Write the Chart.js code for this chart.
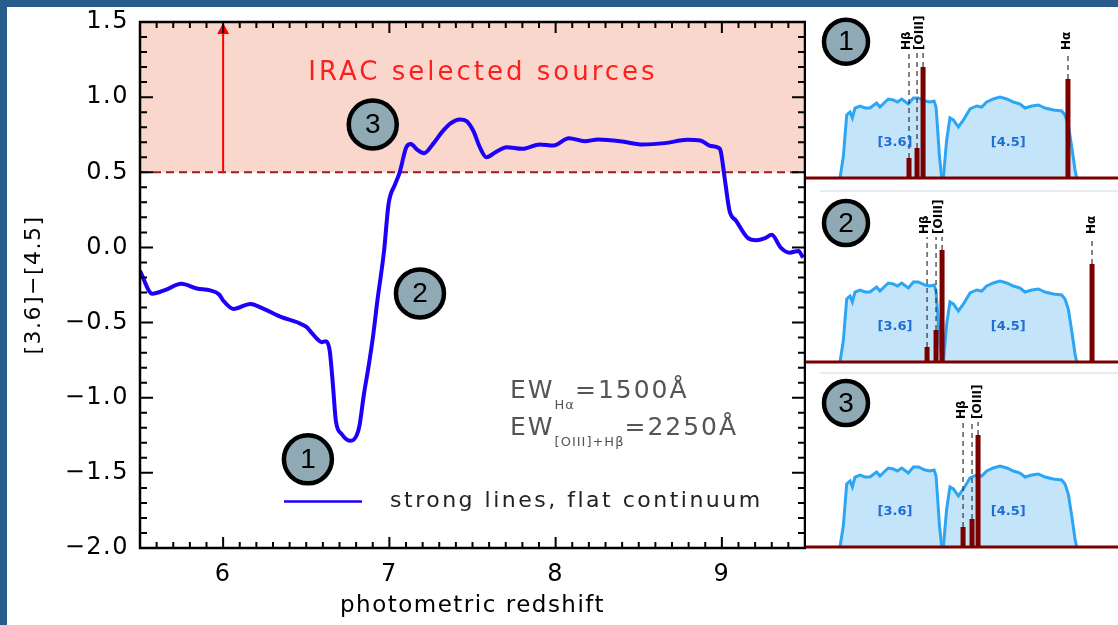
<!DOCTYPE html>
<html>
<head>
<meta charset="utf-8">
<script src="https://cdn.jsdelivr.net/npm/chart.js@4.4.0/dist/chart.umd.min.js"></script>
<style>
  html, body { margin: 0; padding: 0; background: #fff; }
  #wrap { position: relative; width: 1118px; height: 625px; overflow: hidden; background: #fff; }
  canvas { position: absolute; }
  .bar { position: absolute; background: #285c8d; }
  .sep { position: absolute; background: #e6edf2; height: 2px; }
</style>
</head>
<body>
<div id="wrap">
  <canvas id="main" width="799" height="618" style="left:7px;top:7px;width:799px;height:618px"></canvas>
  <canvas id="p1" width="312" height="175" style="left:806px;top:7px;width:312px;height:175px"></canvas>
  <canvas id="p2" width="312" height="174" style="left:806px;top:192px;width:312px;height:174px"></canvas>
  <canvas id="p3" width="312" height="177" style="left:806px;top:374px;width:312px;height:177px"></canvas>
  <div class="sep" style="left:820px;top:190px;width:298px"></div>
  <div class="sep" style="left:820px;top:372px;width:298px"></div>
  <div class="bar" style="left:0;top:0;width:1118px;height:7px"></div>
  <div class="bar" style="left:0;top:0;width:7px;height:625px"></div>
</div>
<script>
// colour track vs photometric redshift
const redshift = [5.500, 5.574, 5.654, 5.748, 5.842, 5.922, 5.976, 6.000, 6.062, 6.164,
  6.244, 6.351, 6.445, 6.499, 6.525, 6.566, 6.592, 6.619, 6.641, 6.660,
  6.678, 6.713, 6.767, 6.802, 6.820, 6.847, 6.874, 6.901, 6.928, 6.968,
  6.995, 7.035, 7.062, 7.102, 7.129, 7.169, 7.209, 7.263, 7.316, 7.370,
  7.424, 7.464, 7.504, 7.544, 7.584, 7.638, 7.705, 7.799, 7.906, 7.987,
  8.080, 8.174, 8.255, 8.389, 8.523, 8.657, 8.791, 8.871, 8.925, 8.979,
  8.992, 9.019, 9.046, 9.086, 9.153, 9.206, 9.260, 9.300, 9.354, 9.408,
  9.461, 9.488];
const colour = [-0.157, -0.308, -0.282, -0.242, -0.273, -0.286, -0.313, -0.353, -0.409, -0.376,
  -0.409, -0.464, -0.498, -0.527, -0.558, -0.609, -0.631, -0.624, -0.687, -0.909,
  -1.153, -1.242, -1.287, -1.253, -1.187, -0.976, -0.798, -0.598, -0.353, -0.023,
  0.288, 0.422, 0.500, 0.667, 0.689, 0.649, 0.627, 0.689, 0.767, 0.827,
  0.852, 0.841, 0.778, 0.667, 0.600, 0.633, 0.667, 0.656, 0.685, 0.678,
  0.727, 0.707, 0.718, 0.707, 0.685, 0.694, 0.716, 0.712, 0.678, 0.663,
  0.645, 0.444, 0.244, 0.177, 0.066, 0.048, 0.062, 0.084, -0.001, -0.035,
  -0.023, -0.068];
const xTicks = [6, 7, 8, 9];
const yTicks = [-2, -1.5, -1, -0.5, 0, 0.5, 1, 1.5];
const iracCut = 0.5;

// IRAC filter curves (micron, relative throughput)
const ch1Wave = [3.114, 3.142, 3.171, 3.199, 3.219, 3.241, 3.284, 3.326, 3.368, 3.402, 3.425,
  3.453, 3.487, 3.524, 3.566, 3.600, 3.637, 3.693, 3.736, 3.778, 3.835, 3.877, 3.911,
  3.928, 3.942, 3.956, 3.976];
const ch1Trans = [0, 0.21, 0.63, 0.66, 0.60, 0.70, 0.72, 0.70, 0.70, 0.73, 0.75,
  0.71, 0.75, 0.79, 0.78, 0.76, 0.79, 0.74, 0.80, 0.80, 0.77, 0.76, 0.77,
  0.71, 0.48, 0.23, 0];
const ch2Wave = [3.990, 4.018, 4.046, 4.075, 4.117, 4.160, 4.216, 4.272, 4.315, 4.357, 4.414,
  4.470, 4.527, 4.583, 4.640, 4.682, 4.739, 4.795, 4.852, 4.922, 4.993, 5.021, 5.049,
  5.078, 5.106, 5.120];
const ch2Trans = [0, 0.38, 0.60, 0.58, 0.51, 0.58, 0.69, 0.72, 0.71, 0.76, 0.79,
  0.81, 0.79, 0.76, 0.74, 0.70, 0.72, 0.73, 0.70, 0.68, 0.67, 0.63, 0.53,
  0.31, 0.08, 0];

// emission lines per panel: observed wavelength and peak height
const p1Wave = [3.699, 3.767, 3.818, 5.046];
const p1Flux = [0.20, 0.30, 1.11, 0.99];
const p2Wave = [3.852, 3.928, 3.979, 5.250];
const p2Flux = [0.15, 0.32, 1.12, 0.98];
const p3Wave = [4.157, 4.233, 4.284];
const p3Flux = [0.20, 0.28, 1.12];
const p1Labels = [['H\u03b2', 3.682], ['[OIII]', 3.792], ['H\u03b1', 5.035]];
const p2Labels = [['H\u03b2', 3.835], ['[OIII]', 3.956], ['H\u03b1', 5.247]];
const p3Labels = [['H\u03b2', 4.148], ['[OIII]', 4.286]];

const FONT = 'DejaVu Sans';

function badge(ctx, px, py, r, txt) {
  ctx.save();
  ctx.beginPath();
  ctx.arc(px, py, r, 0, Math.PI * 2);
  ctx.fillStyle = '#8faab4';
  ctx.fill();
  ctx.lineWidth = 4.5;
  ctx.strokeStyle = '#000';
  ctx.stroke();
  ctx.fillStyle = '#000';
  ctx.letterSpacing = '0px';
  ctx.font = '28px "Liberation Sans"';
  ctx.textAlign = 'center';
  ctx.textBaseline = 'middle';
  ctx.fillText(txt, px, py + 1);
  ctx.restore();
}

function runs(ctx, x0, y0, parts) {
  let cx = x0;
  parts.forEach(p => {
    ctx.font = p[1] + 'px ' + FONT;
    ctx.letterSpacing = p[3];
    ctx.fillText(p[0], cx, y0 + p[2]);
    cx += ctx.measureText(p[0]).width;
  });
}

const mainDecor = {
  id: 'mainDecor',
  beforeDraw(chart) { chart.ctx.letterSpacing = '1.5px'; },
  beforeDatasetsDraw(chart) {
    const {ctx, chartArea: a, scales: {x, y}} = chart;
    const yTop = y.getPixelForValue(1.5), yCut = y.getPixelForValue(iracCut);
    ctx.save();
    ctx.fillStyle = 'rgb(250,215,205)';
    ctx.fillRect(a.left, yTop, a.width, yCut - yTop);
    ctx.strokeStyle = 'rgb(150,30,30)';
    ctx.lineWidth = 2;
    ctx.setLineDash([8, 5]);
    ctx.beginPath(); ctx.moveTo(a.left, yCut); ctx.lineTo(a.right, yCut); ctx.stroke();
    ctx.setLineDash([]);
    const ax = x.getPixelForValue(6);
    ctx.strokeStyle = '#ff0000'; ctx.fillStyle = '#ff0000';
    ctx.beginPath(); ctx.moveTo(ax, yCut); ctx.lineTo(ax, yTop + 8); ctx.stroke();
    ctx.beginPath(); ctx.moveTo(ax, yTop + 1); ctx.lineTo(ax - 6, yTop + 12); ctx.lineTo(ax + 6, yTop + 12); ctx.closePath(); ctx.fill();
    ctx.font = '26px ' + FONT;
    ctx.letterSpacing = '3px';
    ctx.fillStyle = '#ff1e1e';
    ctx.textAlign = 'center'; ctx.textBaseline = 'middle';
    ctx.fillText('IRAC selected sources', x.getPixelForValue(7.563), y.getPixelForValue(1.158));
    ctx.restore();
  },
  afterDatasetsDraw(chart) {
    const {ctx, chartArea: a, scales: {x, y}} = chart;
    ctx.save();
    badge(ctx, x.getPixelForValue(6.51), y.getPixelForValue(-1.41), 24, '1');
    badge(ctx, x.getPixelForValue(7.184), y.getPixelForValue(-0.306), 24, '2');
    badge(ctx, x.getPixelForValue(6.90), y.getPixelForValue(0.818), 24, '3');

    ctx.fillStyle = '#555';
    ctx.textAlign = 'left'; ctx.textBaseline = 'alphabetic';
    const ex = x.getPixelForValue(7.726);
    runs(ctx, ex, y.getPixelForValue(-1.005), [['EW', 25, 0, '2px'], ['H\u03b1', 13, 11, '1px'], ['=1500\u00c5', 25, 0, '2px']]);
    runs(ctx, ex, y.getPixelForValue(-1.251), [['EW', 25, 0, '2px'], ['[OIII]+H\u03b2', 13, 11, '1px'], ['=2250\u00c5', 25, 0, '2px']]);

    // legend
    const ly = y.getPixelForValue(-1.69);
    ctx.strokeStyle = 'rgb(30,0,250)'; ctx.lineWidth = 2.5;
    ctx.beginPath(); ctx.moveTo(x.getPixelForValue(6.366), ly); ctx.lineTo(x.getPixelForValue(6.835), ly); ctx.stroke();
    ctx.fillStyle = '#222';
    ctx.font = '22px ' + FONT;
    ctx.letterSpacing = '2.5px';
    ctx.textBaseline = 'middle';
    ctx.fillText('strong lines, flat continuum', x.getPixelForValue(7.004), ly);

    // frame with inward ticks
    ctx.strokeStyle = '#000'; ctx.lineWidth = 2;
    ctx.beginPath();
    for (let i = 55; i <= 95; i++) {
      const px = x.getPixelForValue(i / 10), len = i % 10 === 0 ? 11 : 6;
      ctx.moveTo(px, a.bottom); ctx.lineTo(px, a.bottom - len);
      ctx.moveTo(px, a.top); ctx.lineTo(px, a.top + len);
    }
    for (let i = -20; i <= 15; i++) {
      const py = y.getPixelForValue(i / 10), len = i % 5 === 0 ? 13 : 7;
      ctx.moveTo(a.left, py); ctx.lineTo(a.left + len, py);
      ctx.moveTo(a.right, py); ctx.lineTo(a.right - len, py);
    }
    ctx.stroke();
    ctx.lineWidth = 2.5;
    ctx.strokeRect(a.left, a.top, a.width, a.height);
    ctx.restore();
  }
};

new Chart(document.getElementById('main'), {
  type: 'line',
  data: {
    datasets: [{
      label: 'strong lines, flat continuum',
      data: redshift.map((z, i) => ({x: z, y: colour[i]})),
      borderColor: 'rgb(30,0,250)',
      borderWidth: 4,
      pointRadius: 0,
      cubicInterpolationMode: 'monotone',
      fill: false
    }]
  },
  options: {
    responsive: false,
    animation: false,
    events: [],
    layout: {padding: {top: 15, right: 1, left: 0, bottom: 0}},
    plugins: {legend: {display: false}, tooltip: {enabled: false}},
    scales: {
      x: {
        type: 'linear', min: 5.5, max: 9.5,
        afterBuildTicks: s => { s.ticks = xTicks.map(v => ({value: v})); },
        afterFit: s => { s.height = 77; },
        grid: {display: false, drawTicks: false},
        border: {display: false},
        ticks: {font: {family: FONT, size: 24}, color: '#000', padding: 12, maxRotation: 0,
          callback: v => String(v)},
        title: {display: true, text: 'photometric redshift', color: '#000',
          font: {family: FONT, size: 23}, padding: {top: 0, bottom: 5}}
      },
      y: {
        type: 'linear', min: -2, max: 1.5,
        afterBuildTicks: s => { s.ticks = yTicks.map(v => ({value: v})); },
        afterFit: s => { s.width = 133; },
        grid: {display: false, drawTicks: false},
        border: {display: false},
        ticks: {font: {family: FONT, size: 24, lineHeight: 0.3}, color: '#000', padding: 11,
          callback: v => (v < 0 ? '\u2212' : '') + Math.abs(v).toFixed(1)},
        title: {display: true, text: '[3.6]\u2212[4.5]', color: '#000',
          font: {family: FONT, size: 22}, padding: {top: 14, bottom: 0}}
      }
    }
  },
  plugins: [mainDecor]
});

// spectral panels
const panelMin = 2.826, panelMax = 5.470, guideTop = 1.25;

function makePanel(id, wave, flux, labels, num, badgeY, yMax) {
  const spikes = [], guides = [];
  wave.forEach((w, i) => {
    spikes.push({x: w, y: 0}, {x: w, y: flux[i]}, {x: w, y: null});
    guides.push({x: w, y: flux[i]}, {x: w, y: guideTop}, {x: w, y: null});
  });
  const decor = {
    id: 'panelDecor' + id,
    afterDatasetsDraw(chart) {
      const {ctx, scales: {x, y}} = chart;
      ctx.save();
      ctx.letterSpacing = '0px';
      ctx.fillStyle = '#1e6ed4';
      ctx.font = 'bold 13px ' + FONT;
      ctx.textAlign = 'center'; ctx.textBaseline = 'middle';
      ctx.fillText('[3.6]', x.getPixelForValue(3.58), y.getPixelForValue(0.35));
      ctx.fillText('[4.5]', x.getPixelForValue(4.54), y.getPixelForValue(0.35));
      ctx.fillStyle = '#000';
      ctx.font = 'bold 12px ' + FONT;
      ctx.textAlign = 'left';
      labels.forEach(l => {
        ctx.save();
        ctx.translate(x.getPixelForValue(l[1]), y.getPixelForValue(guideTop) - 3);
        ctx.rotate(-Math.PI / 2);
        ctx.fillText(l[0], 0, 0);
        ctx.restore();
      });
      badge(ctx, x.getPixelForValue(3.165), y.getPixelForValue(badgeY), 22, num);
      ctx.restore();
    }
  };
  new Chart(document.getElementById(id), {
    type: 'line',
    data: {
      datasets: [
        {data: spikes, borderColor: '#7a0000', borderWidth: 5, pointRadius: 0, spanGaps: false},
        {data: [{x: panelMin, y: 0}, {x: panelMax, y: 0}], borderColor: '#7a0000', borderWidth: 3, pointRadius: 0},
        {data: guides, borderColor: '#333', borderWidth: 1.2, borderDash: [5, 4], pointRadius: 0, spanGaps: false},
        {data: ch1Wave.map((w, i) => ({x: w, y: ch1Trans[i]})), borderColor: '#2ca6f4', borderWidth: 3,
          backgroundColor: 'rgb(196,228,250)', fill: 'origin', pointRadius: 0},
        {data: ch2Wave.map((w, i) => ({x: w, y: ch2Trans[i]})), borderColor: '#2ca6f4', borderWidth: 3,
          backgroundColor: 'rgb(196,228,250)', fill: 'origin', pointRadius: 0}
      ]
    },
    options: {
      responsive: false, animation: false, events: [],
      layout: {padding: 0},
      plugins: {legend: {display: false}, tooltip: {enabled: false}},
      scales: {
        x: {type: 'linear', min: panelMin, max: panelMax, display: false},
        y: {type: 'linear', min: -0.04, max: yMax, display: false}
      }
    },
    plugins: [decor]
  });
}

makePanel('p1', p1Wave, p1Flux, p1Labels, '1', 1.363, 1.71);
makePanel('p2', p2Wave, p2Flux, p2Labels, '2', 1.39, 1.70);
makePanel('p3', p3Wave, p3Flux, p3Labels, '3', 1.44, 1.73);
</script>
</body>
</html>
